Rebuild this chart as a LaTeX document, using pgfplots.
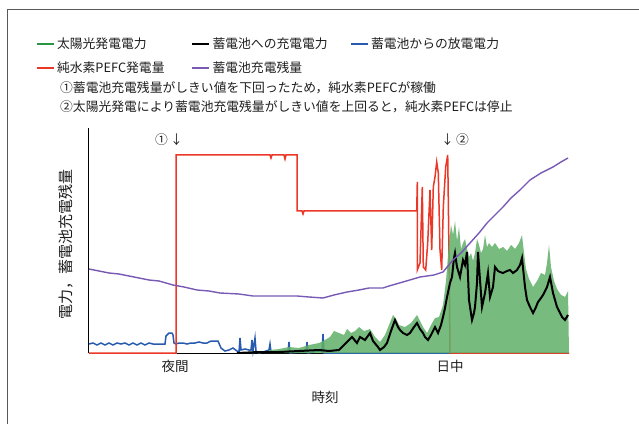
\documentclass[border=0pt]{standalone}
\usepackage{fontspec}
\setmainfont{Noto Sans CJK JP}
\usepackage{pgfplots}
\pgfplotsset{compat=1.18}
\definecolor{cred}{RGB}{235,55,40}
\definecolor{cblue}{RGB}{40,90,175}
\definecolor{cpurple}{RGB}{120,90,180}
\definecolor{cgreen}{RGB}{40,150,70}
\definecolor{cgfill}{RGB}{95,175,105}
\definecolor{ctext}{RGB}{30,30,30}
\begin{document}
\begin{tikzpicture}
\useasboundingbox (-89pt,-70pt) rectangle (550pt,353pt);
\begin{axis}[
  at={(0pt,0pt)}, anchor=south west,
  scale only axis, width=480pt, height=225pt,
  xmin=0, xmax=480, ymin=0, ymax=225,
  axis x line=bottom, axis y line=left,
  axis line style={-, line width=1pt, black},
  xtick={86,361}, xticklabels={夜間,日中},
  major tick length=0pt, ytick=\empty,
  xticklabel style={font=\fontsize{13.5}{16}\selectfont, text=ctext, yshift=-4pt},
  clip=false,
  legend columns=3,
  legend cell align=left,
  legend style={draw=none, fill=none, at={(axis description cs:-0.118,1.42)}, anchor=north west,
    font=\fontsize{12.8}{15}\selectfont, text=ctext, row sep=8pt},
  legend image code/.code={\draw[#1, line width=2.5pt] (0pt,0pt) -- (17pt,0pt);},
]
\addlegendimage{cgreen}
\addlegendentry{\makebox[132pt][l]{太陽光発電電力}}
\addlegendimage{black}
\addlegendentry{\makebox[135pt][l]{蓄電池への充電電力}}
\addlegendimage{cblue}
\addlegendentry{蓄電池からの放電電力}
\addlegendimage{cred}
\addlegendentry{\makebox[132pt][l]{純水素PEFC発電量}}
\addlegendimage{cpurple}
\addlegendentry{\makebox[135pt][l]{蓄電池充電残量}}

% blue: discharge power
\addplot[cblue, line width=1.5pt, forget plot] coordinates {
(0,9) (4,10) (8,8) (12,10) (16,8) (20,10) (24,8) (28,10) (32,9) (36,10) (40,8) (44,10) (48,8) (52,10) (56,8) (60,10) (64,9) (70,9) (76,9) (77,17) (80,20) (83,20) (84,18) (85,10) (87,9) (90,10) (94,10) (98,9) (102,10) (106,10) (110,11) (114,10) (118,10) (122,12) (128,12) (129,12) (132,5) (136,2) (140,3) (144,5) (148,2) (150,1) (151,15) (152,3) (156,4) (160,3) (162,3) (163,13) (164,2) (166,15) (167,2) (170,0) (174,1) (180,3) (181,9) (182,1) (190,1) (199,1) (200,11) (201,0) (210,1) (217,1) (218,11) (219,0) (230,2) (233,1) (234,19) (235,0) (245,0) (300,0) (361,0)
};
% red: PEFC
\addplot[cred, line width=1.5pt, forget plot] coordinates {
(0,0) (87,0) (87,198) (181,198) (182,195) (183,198) (195,198) (196,194) (197,198) (208,198) (208,142) (213,142) (214,139) (215,142) (327.7,142) (328.3,171) (328.3,83) (331,90) (333.3,166) (334.3,86) (336.7,83) (338.7,110) (341,163) (342.7,103) (344.3,166) (346,176) (347.7,191) (349.3,180) (351,103) (352.7,83) (354.3,146) (356.7,186) (358.7,198) (360.3,76) (361,0) (480,0)
};
% green: solar power
\addplot[draw=none, fill=cgfill, fill opacity=0.85, forget plot] coordinates {
(175,0) (181,3) (190,4) (200,6) (210,5) (220,8) (230,10) (236,13) (241,16) (245,22) (250,20) (255,18) (258,24) (262,20) (266,22) (270,26) (275,22) (281,24) (286,16) (291,11) (296,18) (300,28) (304,38) (307,34) (310,28) (316,26) (322,30) (328,38) (331,32) (334,26) (338,20) (342,28) (346,35) (350,36) (354,48) (357,72) (360,110) (362,128) (364,118) (366,132) (368,112) (370,126) (372,104) (374,110) (376,114) (378,104) (380,96) (382,100) (384,92) (386,100) (388,114) (390,108) (392,100) (394,104) (396,118) (398,106) (400,110) (403,106) (406,110) (410,104) (414,106) (418,102) (422,108) (426,104) (430,110) (433,118) (435,100) (437,84) (440,74) (444,66) (448,72) (452,80) (456,78) (458,90) (460,108) (462,86) (465,72) (468,64) (472,58) (476,56) (479,62) (480,0)
} \closedcycle;
% black: charge power
\addplot[black, line width=2pt, forget plot] coordinates {
(148,0) (170,1) (190,1) (210,2) (230,3) (240,2) (250,3) (255,8) (258,11) (263,16) (268,10) (271,16) (276,13) (281,20) (284,12) (289,6) (291,3) (295,6) (298,10) (302,22) (306,33) (309,26) (311,23) (314,20) (318,18) (321,20) (325,26) (328,30) (331,24) (334,20) (336,16) (339,13) (342,18) (346,26) (349,20) (352,28) (354,36) (356,45) (358,56) (361,70) (363,76) (365,95) (366,100) (368,86) (371,76) (374,93) (376,88) (378,101) (380,53) (383,33) (385,40) (386,46) (388,70) (389,101) (391,73) (393,46) (396,60) (399,80) (401,56) (404,66) (406,86) (409,82) (411,81) (414,80) (418,82) (421,83) (424,80) (428,83) (431,88) (433,95) (436,66) (438,53) (441,46) (444,40) (447,46) (449,51) (452,55) (454,58) (458,66) (461,76) (464,60) (468,46) (471,40) (473,36) (476,33) (479,38)
};
% purple: state of charge
\addplot[cpurple, line width=1.4pt, forget plot] coordinates {
(0,84) (10,82) (20,80) (30,79) (40,77) (50,75) (60,73) (70,72) (84,68) (95,66) (108,63) (120,62) (131,60) (150,59) (164,57) (180,57) (208,57) (220,56) (234,55) (245,58) (258,61) (270,63) (280,65) (294,65) (300,67) (314,71) (331,76) (345,78) (354,81) (364,93) (372,100) (381,110) (390,120) (398,130) (406,138) (414,146) (422,155) (431,163) (441,173) (452,180) (464,186) (472,191) (479,195)
};
\end{axis}
\begin{scope}[font=\fontsize{12.8}{15}\selectfont, text=ctext]
\node[anchor=west, inner sep=0pt] at (-29pt,265pt) {①蓄電池充電残量がしきい値を下回ったため，純水素PEFCが稼働};
\node[anchor=west, inner sep=0pt] at (-29pt,246pt) {②太陽光発電により蓄電池充電残量がしきい値を上回ると，純水素PEFCは停止};
\node[inner sep=0pt] at (80pt,213pt) {①\,↓};
\node[inner sep=0pt] at (366pt,213pt) {↓\,②};
\end{scope}
\node[rotate=90, inner sep=0pt, text=ctext, font=\fontsize{15}{18}\selectfont] at (-23pt,109pt) {電力，蓄電池充電残量};
\node[inner sep=0pt, text=ctext, font=\fontsize{13.5}{16}\selectfont] at (236pt,-44pt) {時刻};
\draw[black!65, line width=1pt] (-81pt,-75pt) -- (-81pt,343pt) -- (560pt,343pt);
\end{tikzpicture}
\end{document}
